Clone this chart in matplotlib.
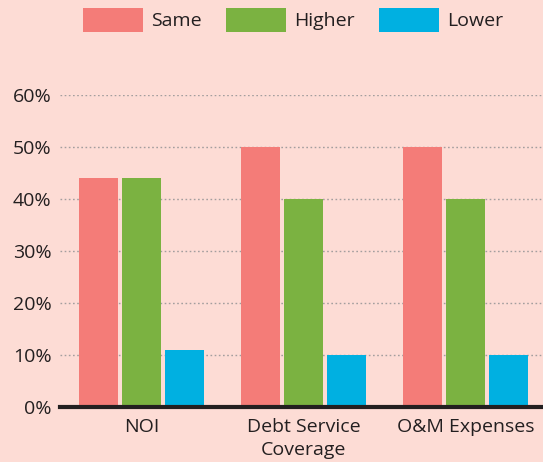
import numpy as np
import matplotlib.pyplot as plt
from matplotlib.patches import Patch

# data
categories = ["NOI", "Debt Service\nCoverage", "O&M Expenses"]
series_names = ["Same", "Higher", "Lower"]
same = [44, 50, 50]
higher = [44, 40, 40]
lower = [11, 10, 10]
yticks = [0, 10, 20, 30, 40, 50, 60]

colors = ["#F47C78", "#7BB241", "#00B0E1"]
bg = "#FDDCD5"
text_color = "#231F20"

plt.rcParams['font.family'] = ['Open Sans', 'DejaVu Sans']

fig = plt.figure(figsize=(5.43, 4.62), dpi=100, facecolor=bg)
ax = fig.add_axes([60 / 543, 55 / 462, 483 / 543, 312 / 462], facecolor=bg)

x = np.arange(len(categories))
width = 39 / 162
step = 43 / 162
for i, (vals, c) in enumerate(zip([same, higher, lower], colors)):
    ax.bar(x + (i - 1) * step, vals, width=width, color=c, zorder=3)

ax.set_xlim(-0.503, 2.478)
ax.set_ylim(0, 60)
ax.set_yticks(yticks)
ax.set_yticklabels([f"{t}%" for t in yticks])
ax.set_xticks(x)
ax.set_xticklabels(categories, linespacing=1.35)

for t in yticks[1:]:
    ax.axhline(t, color="#A39E9E", linestyle=(0, (1.2, 1.8)), linewidth=1.0, zorder=1)
ax.axhline(0, color=text_color, linewidth=3, zorder=4, clip_on=False)

for s in ax.spines.values():
    s.set_visible(False)
ax.tick_params(axis='both', length=0, labelsize=14, colors=text_color)
ax.tick_params(axis='y', pad=6)
ax.tick_params(axis='x', pad=8)

handles = [Patch(facecolor=c, edgecolor='none') for c in colors]
fig.legend(handles, series_names, loc='upper left', bbox_to_anchor=(83 / 543, 1 - 8 / 462),
           ncol=3, frameon=False, fontsize=14, handlelength=3.1, handleheight=1.5,
           handletextpad=0.4, columnspacing=1.25, borderpad=0, borderaxespad=0,
           labelcolor=text_color)

fig.savefig("out.png", dpi=100, facecolor=bg)
